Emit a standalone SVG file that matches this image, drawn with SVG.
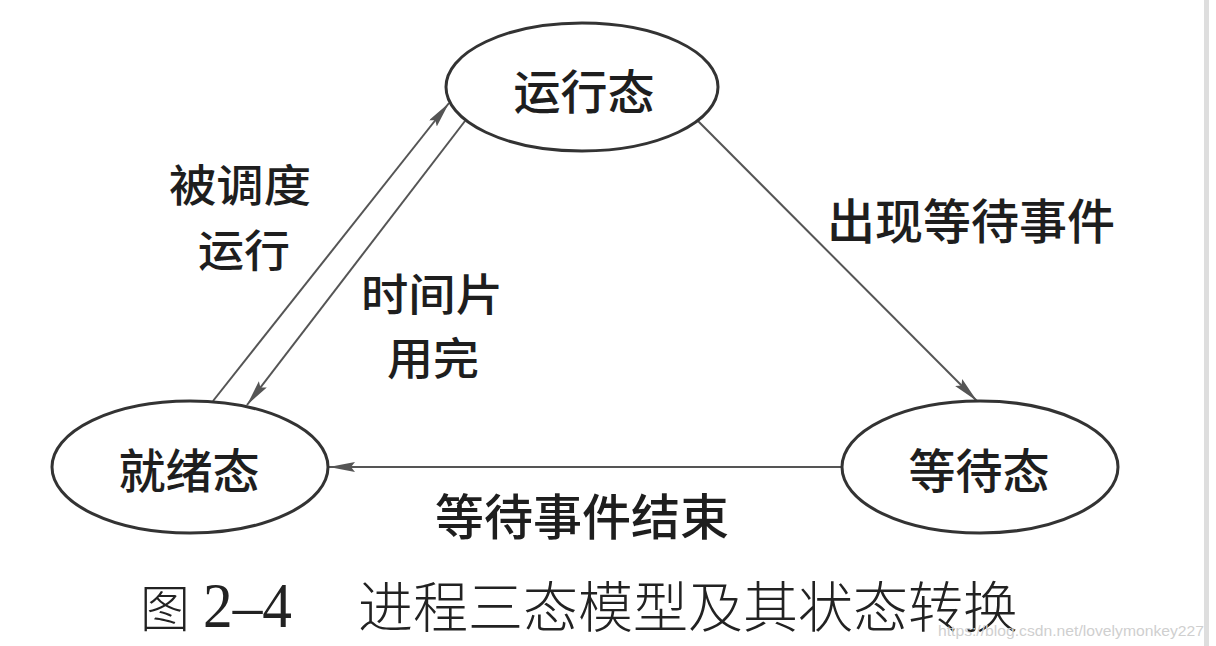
<svg xmlns="http://www.w3.org/2000/svg" width="1216" height="646" viewBox="0 0 1216 646">
  <style>
    .node { fill: #ffffff; stroke: #333333; stroke-width: 3; }
    .label { font-family: "Noto Sans CJK SC", "Noto Sans", sans-serif; font-weight: 500; fill: #1e1e1e; text-anchor: middle; }
    .edge { fill: none; stroke: #555555; stroke-width: 2; }
    .cap { font-family: "Noto Sans CJK SC", sans-serif; font-weight: 300; fill: #222222; }
    .num { font-family: "Liberation Serif", serif; fill: #222222; }
    .wm { font-family: "Liberation Sans", sans-serif; fill: #cfcfcf; }
  </style>
  <defs>
    <marker id="arrow" markerUnits="userSpaceOnUse" markerWidth="28" markerHeight="12" refX="26" refY="5" orient="auto">
      <path d="M0,0 L26,5 L0,10 L4,5 z" fill="#555555"/>
    </marker>
  </defs>
  <rect x="0" y="0" width="1216" height="646" fill="#ffffff"/>
  <rect x="1204" y="0" width="5" height="646" fill="#dedede"/>

  <g id="connectors">
    <line class="edge" x1="213" y1="401" x2="449" y2="103" marker-end="url(#arrow)"/>
    <line class="edge" x1="465" y1="121" x2="247" y2="405" marker-end="url(#arrow)"/>
    <line class="edge" x1="698" y1="121" x2="977" y2="401" marker-end="url(#arrow)"/>
    <line class="edge" x1="842" y1="467" x2="329" y2="467" marker-end="url(#arrow)"/>
    <text class="label" x="240" y="202" font-size="44" textLength="142" lengthAdjust="spacingAndGlyphs">被调度</text>
    <text class="label" x="244" y="267" font-size="44" textLength="92" lengthAdjust="spacingAndGlyphs">运行</text>
    <text class="label" x="432" y="311" font-size="44" textLength="142" lengthAdjust="spacingAndGlyphs">时间片</text>
    <text class="label" x="433" y="375" font-size="44" textLength="92" lengthAdjust="spacingAndGlyphs">用完</text>
    <text class="label" x="971" y="239" font-size="48">出现等待事件</text>
    <text class="label" x="582" y="535" font-size="49">等待事件结束</text>
  </g>

  <g id="running">
    <ellipse class="node" cx="582" cy="87" rx="136" ry="64"/>
    <text class="label" x="584" y="109" font-size="47">运行态</text>
  </g>
  <g id="ready">
    <ellipse class="node" cx="190" cy="467" rx="138" ry="66"/>
    <text class="label" x="189" y="488" font-size="47">就绪态</text>
  </g>
  <g id="waiting">
    <ellipse class="node" cx="980" cy="467" rx="138" ry="66"/>
    <text class="label" x="979" y="488" font-size="47">等待态</text>
  </g>

  <g id="caption">
    <text class="cap" x="140" y="627" font-size="50">图</text>
    <text class="num" x="203" y="627" font-size="64" textLength="89" lengthAdjust="spacingAndGlyphs">2–4</text>
    <text class="cap" x="358" y="627" font-size="55" textLength="660" lengthAdjust="spacingAndGlyphs">进程三态模型及其状态转换</text>
  </g>
  <text class="wm" x="938" y="636" font-size="15" textLength="266" lengthAdjust="spacingAndGlyphs">https://blog.csdn.net/lovelymonkey227</text>
</svg>
